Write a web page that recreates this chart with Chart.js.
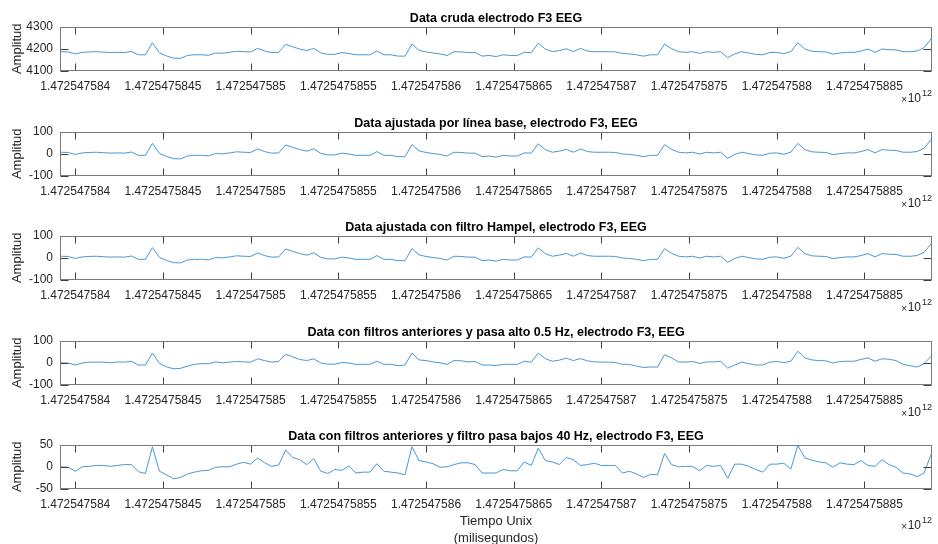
<!DOCTYPE html>
<html>
<head>
<meta charset="utf-8">
<script src="https://cdn.jsdelivr.net/npm/chart.js@4"></script>
<style>
  body { margin: 0; background: #fff; width: 938px; height: 544px; position: relative; overflow: hidden; }
  canvas { position: absolute; left: 0; }
</style>
</head>
<body>
<script>
// ============================================================
// EEG electrodo F3 - 5 etapas de filtrado (estilo MATLAB subplot)
// ============================================================

// Tiempo Unix (ms) = tiempoBase + tiempoMs[i]
const tiempoBase = 1472547583920;
const tiempoMs = [0,40,80,120,160,200,240,280,320,360,400,440,480,520,560,600,640,680,720,760,800,840,880,920,960,1000,1040,1080,1120,1160,1200,1240,1280,1320,1360,1400,1440,1480,1520,1560,1600,1640,1680,1720,1760,1800,1840,1880,1920,1960,2000,2040,2080,2120,2160,2200,2240,2280,2320,2360,2400,2440,2480,2520,2560,2600,2640,2680,2720,2760,2800,2840,2880,2920,2960,3000,3040,3080,3120,3160,3200,3240,3280,3320,3360,3400,3440,3480,3520,3560,3600,3640,3680,3720,3760,3800,3840,3880,3920,3960,4000,4040,4080,4120,4160,4200,4240,4280,4320,4360,4400,4440,4480,4520,4560,4600,4640,4680,4720,4760,4800,4840,4880,4920,4960,5000];

const crudaF3 = [4187,4186,4177,4184,4186,4187,4185,4183,4184,4183,4188,4173,4173,
  4227,
  4182,4168,4158,4157,4170,4173,4173,4171,4181,4180,4184,4189,4187,4186,
  4202,4190,4183,4184,
  4220,4209,4199,4192,4202,
  4182,4175,4175,4183,4179,4173,4173,4173,4190,4173,4173,4167,4167,
  4222,4193,4186,4181,4177,4170,4187,4186,4183,4183,4167,4170,4165,
  4173,4170,4170,4184,4183,
  4225,4199,4187,4192,4200,4187,4202,4190,4187,4187,4187,4186,4179,4177,4173,4167,4173,4173,
  4221,4200,4187,4184,4187,4179,4187,4184,4187,
  4160,4177,4187,4181,4175,4173,4183,4184,4178,4187,
  4227,4199,4189,4187,4186,4176,4181,4184,4184,4190,4199,4184,4199,4196,4195,4187,4187,4190,4205,4245,
  4200];

const lineaBaseF3 = [7,6,-3,4,6,7,5,3,4,3,8,-7,-7,
  47,
  2,-12,-22,-23,-10,-7,-7,-9,1,0,4,9,7,6,
  22,10,3,4,
  40,29,19,12,22,
  2,-5,-5,3,-1,-7,-7,-7,10,-7,-7,-13,-13,
  42,13,6,1,-3,-10,7,6,3,3,-13,-10,-15,
  -7,-10,-10,4,3,
  45,19,7,12,20,7,22,10,7,7,7,6,-1,-3,-7,-13,-7,-7,
  41,20,7,4,7,-1,7,4,7,
  -20,-3,7,1,-5,-7,3,4,-2,7,
  47,19,9,7,6,-4,1,4,4,10,19,4,19,16,15,7,7,10,25,65,
  20];

const hampelF3 = [7,6,-3,4,6,7,5,3,4,3,8,-7,-7,
  46,
  2,-12,-22,-23,-10,-7,-7,-9,1,0,4,9,7,6,
  22,10,3,4,
  40,29,19,12,22,
  2,-5,-5,3,-1,-7,-7,-7,10,-7,-7,-13,-13,
  42,13,6,1,-3,-10,7,6,3,3,-13,-10,-15,
  -7,-10,-10,4,3,
  45,19,7,12,20,7,22,10,7,7,7,6,-1,-3,-7,-13,-7,-7,
  41,20,7,4,7,-1,7,4,7,
  -20,-3,7,1,-5,-7,3,4,-2,7,
  47,19,9,7,6,-4,1,4,4,10,19,4,19,16,15,7,7,10,25,63,
  20];

const pasaAltoF3 = [0,-1,-10,-1,3,3,3,0,4,3,7,-10,-10,
  44,
  -3,-18,-27,-25,-15,-7,-4,-4,4,0,3,6,4,3,
  18,10,3,6,
  38,27,15,10,18,
  -1,-6,-6,1,-1,-7,-7,-7,7,-7,-7,-13,-10,
  44,13,10,4,0,-7,10,9,4,6,-10,-10,-12,
  -7,-7,-7,7,3,
  44,19,7,12,21,10,19,9,4,3,3,1,-7,-7,-15,-21,-19,-19,
  36,22,4,3,6,-3,4,4,7,
  -24,-10,3,-4,-10,-10,3,6,1,7,
  52,22,13,10,9,-1,6,7,7,15,22,7,18,16,10,-7,-13,-19,-4,30,
  0];

const pasaBajoF3 = [0,-1,-10,0,1,3,3,1,3,5,5,-11,-15,
  45,
  -10,-18,-27,-24,-16,-12,-9,-8,-1,0,0,6,10,6,
  20,9,1,4,
  38,21,16,5,18,
  -10,-15,-6,-8,2,-14,-12,-12,7,-10,-12,-14,-18,
  45,14,11,7,-1,0,5,9,9,5,-14,-14,-14,
  -6,-9,-9,11,3,
  42,14,11,5,21,16,3,5,8,3,3,3,-14,-10,-16,-24,-17,-18,
  30,5,0,1,1,-9,3,1,3,
  -26,6,6,1,-6,-12,6,6,8,-5,
  48,20,15,11,9,-1,9,6,5,14,3,1,16,5,-1,-14,-16,-22,-14,28,
  -6];

const titulos = [
  'Data cruda electrodo F3 EEG',
  'Data ajustada por línea base, electrodo F3, EEG',
  'Data ajustada con filtro Hampel, electrodo F3, EEG',
  'Data con filtros anteriores y pasa alto 0.5 Hz, electrodo F3, EEG',
  'Data con filtros anteriores y filtro pasa bajos 40 Hz, electrodo F3, EEG'
];

const xTicks = [1472547584000,1472547584500,1472547585000,1472547585500,1472547586000,
  1472547586500,1472547587000,1472547587500,1472547588000,1472547588500];
const xMin = 1472547583913;
const xMax = 1472547588885;

const yTicksCruda = [4100, 4200, 4300];
const yTicks100 = [-100, 0, 100];
const yTicks50 = [-50, 0, 50];

const paneles = [
  { datos: crudaF3,     yTicks: yTicksCruda },
  { datos: lineaBaseF3, yTicks: yTicks100 },
  { datos: hampelF3,    yTicks: yTicks100 },
  { datos: pasaAltoF3,  yTicks: yTicks100 },
  { datos: pasaBajoF3,  yTicks: yTicks50 }
];

// posicion de cada eje (px) y alto del canvas
const topEje = [26, 131, 235, 340, 444];
const altoEje = 45;
const FUENTE = '"Liberation Sans", Arial, Helvetica, sans-serif';

Chart.defaults.font.family = FUENTE;
Chart.defaults.color = '#262626';

// caja + ticks hacia adentro + etiqueta x10^12, como MATLAB
const cajaMatlab = {
  id: 'cajaMatlab',
  afterDatasetsDraw(chart, args, opts) {
    const { ctx, chartArea: a, scales: { x, y } } = chart;
    const L = Math.round(a.left) + 0.5, R = Math.round(a.right) - 0.5;
    const T = Math.round(a.top) + 0.5, B = Math.round(a.bottom) - 0.5;
    ctx.save();
    ctx.lineWidth = 1;
    ctx.strokeStyle = '#404040';
    ctx.beginPath();
    x.ticks.forEach(t => {
      const px = Math.round(x.getPixelForValue(t.value)) + 0.5;
      ctx.moveTo(px, T); ctx.lineTo(px, T + 7);
      ctx.moveTo(px, B); ctx.lineTo(px, B - 7);
    });
    y.ticks.forEach(t => {
      const py = Math.round(y.getPixelForValue(t.value)) + 0.5;
      ctx.moveTo(L, py); ctx.lineTo(L + 8, py);
      ctx.moveTo(R, py); ctx.lineTo(R - 8, py);
    });
    ctx.stroke();
    ctx.strokeStyle = '#7a7a7a';
    ctx.strokeRect(L, T, R - L, B - T);

    // exponente del eje x
    const ey = a.bottom + opts.exponenteY;
    ctx.fillStyle = '#262626';
    ctx.textBaseline = 'middle';
    ctx.textAlign = 'right';
    ctx.font = '12px ' + FUENTE;
    ctx.fillText('10', 921, ey);
    ctx.font = '10px ' + FUENTE;
    ctx.fillText('\u00d7', 907, ey + 1);
    ctx.textAlign = 'left';
    ctx.font = '9px ' + FUENTE;
    ctx.fillText('12', 922, ey - 5);
    ctx.restore();
  }
};

function crearPanel(p, i) {
  const ultimo = i === paneles.length - 1;
  const altoCanvas = ultimo ? 129 : 104;
  const canvas = document.createElement('canvas');
  canvas.width = 938;
  canvas.height = altoCanvas;
  canvas.style.top = (topEje[i] - 26) + 'px';
  document.body.appendChild(canvas);

  new Chart(canvas.getContext('2d'), {
    type: 'line',
    data: {
      datasets: [{
        data: p.datos.map((v, k) => ({ x: tiempoBase + tiempoMs[k], y: v })),
        borderColor: 'rgb(72,152,214)',
        borderWidth: 1,
        pointRadius: 0,
        tension: 0,
        clip: 0
      }]
    },
    options: {
      responsive: false,
      animation: false,
      events: [],
      layout: { padding: { top: 6, left: 0, right: 6, bottom: 0 } },
      plugins: {
        legend: { display: false },
        tooltip: { enabled: false },
        title: {
          display: true,
          text: titulos[i],
          fullSize: false,
          color: '#000',
          font: { size: 12.5, weight: 'bold' },
          padding: { top: 5, bottom: 0.6 }
        },
        cajaMatlab: { exponenteY: ultimo ? 37 : 28 }
      },
      scales: {
        x: {
          type: 'linear',
          min: xMin, max: xMax,
          afterBuildTicks: s => { s.ticks = xTicks.map(v => ({ value: v })); },
          afterFit: s => { s.height = altoCanvas - 26 - altoEje; },
          grid: { display: false, drawTicks: false },
          border: { display: false },
          ticks: {
            autoSkip: false, maxRotation: 0, minRotation: 0, padding: 8,
            font: { size: 12 },
            callback: v => String(+(v / 1e12).toFixed(10))
          },
          title: {
            display: ultimo,
            text: ['Tiempo Unix', '(milisegundos)'],
            font: { size: 13, lineHeight: 1.3 },
            padding: { top: 0, bottom: 0 }
          }
        },
        y: {
          min: p.yTicks[0], max: p.yTicks[p.yTicks.length - 1],
          afterBuildTicks: s => { s.ticks = p.yTicks.map(v => ({ value: v })); },
          afterFit: s => { s.width = 60; },
          grid: { display: false, drawTicks: false },
          border: { display: false },
          ticks: { padding: 7, font: { size: 12 }, callback: v => String(v) },
          title: {
            display: true,
            text: 'Amplitud',
            font: { size: 13 },
            padding: { top: 10, bottom: 0 }
          }
        }
      }
    },
    plugins: [cajaMatlab]
  });
}

paneles.forEach(crearPanel);
</script>
</body>
</html>
